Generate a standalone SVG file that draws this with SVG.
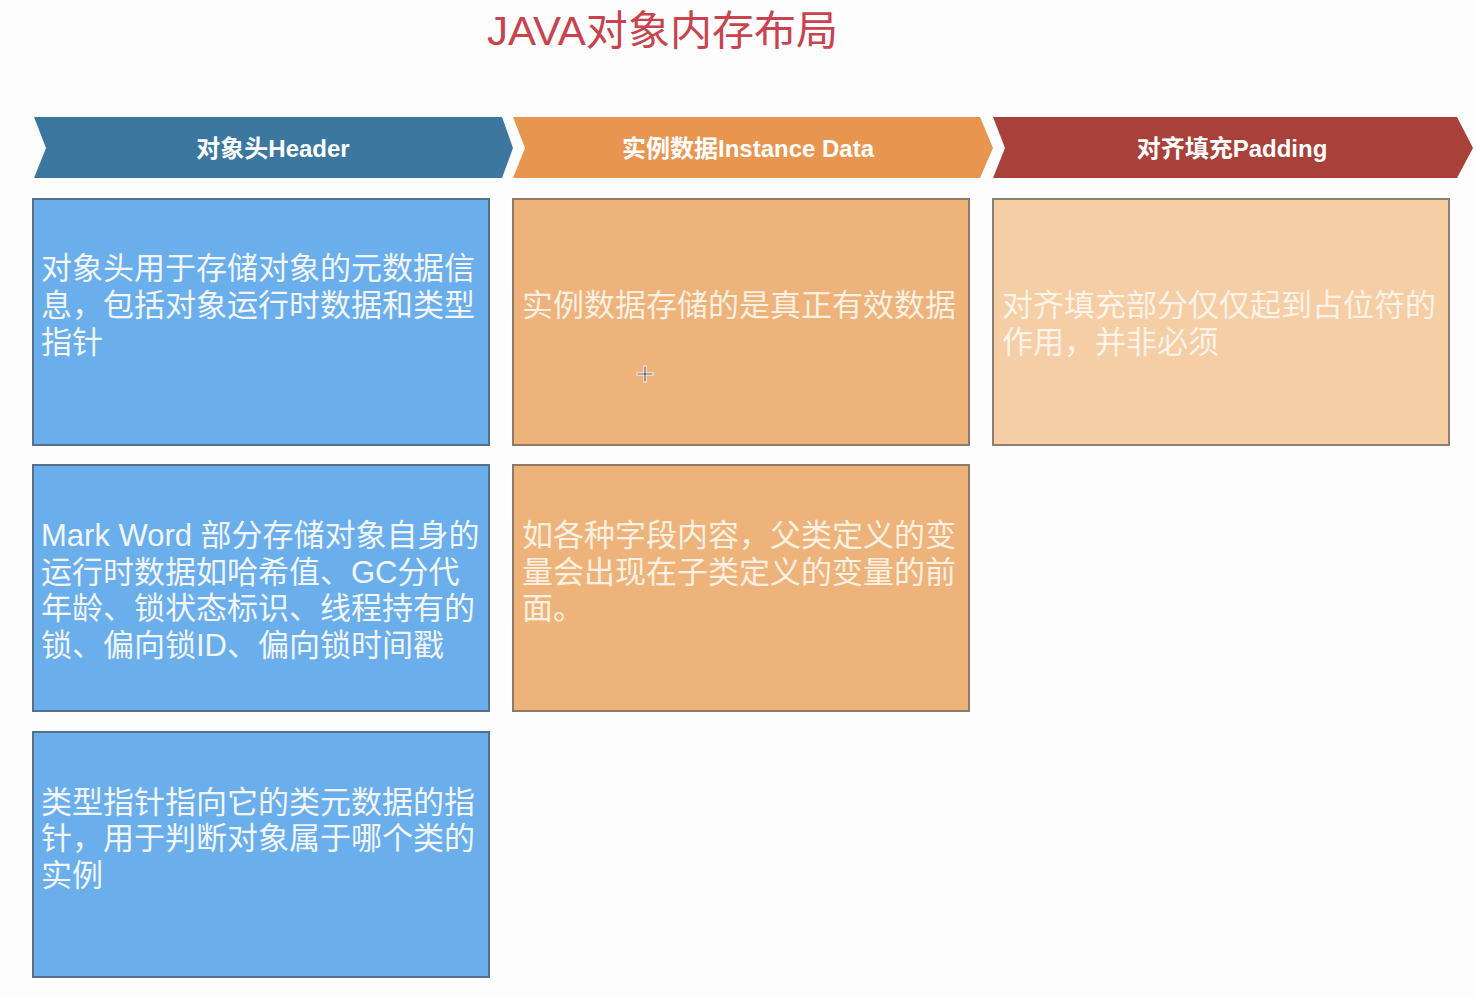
<svg xmlns="http://www.w3.org/2000/svg" width="1476" height="998" viewBox="0 0 1476 998">
  <style>
    .title { font-family: "Liberation Sans", "Noto Sans CJK SC", sans-serif; font-size: 41px; fill: #C8434D; }
    .band { font-family: "Liberation Sans", "Noto Sans CJK SC", sans-serif; font-size: 24px; font-weight: bold; fill: #FFFFFF; text-anchor: middle; }
    .body { font-family: "Liberation Sans", "Noto Sans CJK SC", sans-serif; font-size: 31px; }
    .box { stroke-width: 2; }
    .blue { fill: #6AAEEB; stroke: #55708A; }
    .orange { fill: #EDB37A; stroke: #8E7A66; }
    .peach { fill: #F5CEA6; stroke: #8E8070; }
    .t-blue { fill: #F2F6FA; }
    .t-orange { fill: #FCF0E2; }
    .t-peach { fill: #FDF3E8; }
  </style>
  <rect width="1476" height="998" fill="#FDFDFD"/>

  <text class="title" x="487" y="45" textLength="351" lengthAdjust="spacingAndGlyphs">JAVA对象内存布局</text>

  <!-- section bands -->
  <g id="band-header">
    <polygon points="34,117 502,117 513,148 502,178 34,178 46,148" fill="#3C77A0"/>
    <text class="band" x="273" y="157">对象头Header</text>
  </g>
  <g id="band-instance">
    <polygon points="513,117 980,117 993,148 980,178 513,178 525,148" fill="#E8964F"/>
    <text class="band" x="748" y="157">实例数据Instance Data</text>
  </g>
  <g id="band-padding">
    <polygon points="993,117 1457,117 1473,148 1457,178 993,178 1005,148" fill="#A8413A"/>
    <text class="band" x="1232" y="157">对齐填充Padding</text>
  </g>

  <!-- header boxes -->
  <g id="header-meta">
    <rect class="box blue" x="33" y="199" width="456" height="246"/>
    <text class="body t-blue" x="41">
      <tspan x="41" y="279">对象头用于存储对象的元数据信</tspan>
      <tspan x="41" y="316">息，包括对象运行时数据和类型</tspan>
      <tspan x="41" y="353">指针</tspan>
    </text>
  </g>
  <g id="header-markword">
    <rect class="box blue" x="33" y="465" width="456" height="246"/>
    <text class="body t-blue" x="41">
      <tspan x="41" y="546">Mark Word 部分存储对象自身的</tspan>
      <tspan x="41" y="583">运行时数据如哈希值、GC分代</tspan>
      <tspan x="41" y="619">年龄、锁状态标识、线程持有的</tspan>
      <tspan x="41" y="656">锁、偏向锁ID、偏向锁时间戳</tspan>
    </text>
  </g>
  <g id="header-klass">
    <rect class="box blue" x="33" y="732" width="456" height="245"/>
    <text class="body t-blue" x="41">
      <tspan x="41" y="813">类型指针指向它的类元数据的指</tspan>
      <tspan x="41" y="849">针，用于判断对象属于哪个类的</tspan>
      <tspan x="41" y="886">实例</tspan>
    </text>
  </g>

  <!-- instance data boxes -->
  <g id="instance-main">
    <rect class="box orange" x="513" y="199" width="456" height="246"/>
    <text class="body t-orange" x="522" y="316">实例数据存储的是真正有效数据</text>
  </g>
  <g id="instance-order">
    <rect class="box orange" x="513" y="465" width="456" height="246"/>
    <text class="body t-orange" x="522">
      <tspan x="522" y="546">如各种字段内容，父类定义的变</tspan>
      <tspan x="522" y="583">量会出现在子类定义的变量的前</tspan>
      <tspan x="522" y="619">面。</tspan>
    </text>
  </g>

  <!-- padding box -->
  <g id="padding-main">
    <rect class="box peach" x="993" y="199" width="456" height="246"/>
    <text class="body t-peach" x="1002">
      <tspan x="1002" y="316">对齐填充部分仅仅起到占位符的</tspan>
      <tspan x="1002" y="353">作用，并非必须</tspan>
    </text>
  </g>

  <!-- pointer crosshair -->
  <g id="crosshair" stroke-linecap="square">
    <path d="M645,367 V381 M638,374 H652" stroke="#FFFFFF" stroke-width="3"/>
    <path d="M645,367 V381 M638,374 H652" stroke="#555555" stroke-width="1.2"/>
  </g>

  <!-- no connectors in this layout -->
  <g id="connectors"/>
</svg>
